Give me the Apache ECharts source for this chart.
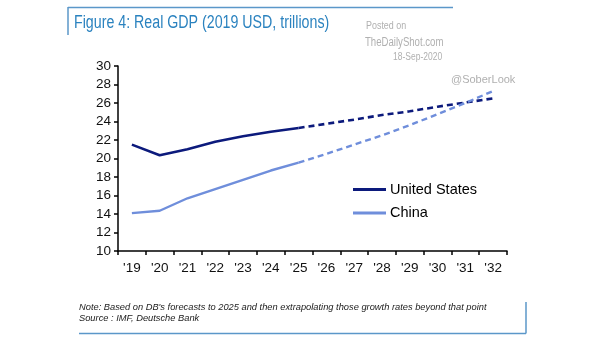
<!DOCTYPE html>
<html><head><meta charset="utf-8">
<script src="https://cdn.jsdelivr.net/npm/echarts@6/dist/echarts.min.js"></script>
<style>html,body{margin:0;padding:0;background:#fff}#c{width:605px;height:341px}</style>
</head><body><div id="c"></div>
<script>
const categories = ["'19","'20","'21","'22","'23","'24","'25","'26","'27","'28","'29","'30","'31","'32"];
const usActual = [21.5, 20.35, 21.0, 21.8, 22.4, 22.9, 23.3, null, null, null, null, null, null, null];
const usProjected = [null, null, null, null, null, null, 23.3, 23.75, 24.2, 24.7, 25.1, 25.6, 26.05, 26.5];
const chinaActual = [14.1, 14.35, 15.7, 16.7, 17.7, 18.7, 19.55, null, null, null, null, null, null, null];
const chinaProjected = [null, null, null, null, null, null, 19.55, 20.5, 21.5, 22.5, 23.6, 24.8, 26.0, 27.3];
const yTicks = {min: 10, max: 30, interval: 2};

const US = '#0c1a7c', CN = '#6f8edb', FONT = 'Liberation Sans, Arial, sans-serif';
const chart = echarts.init(document.getElementById('c'), null, {renderer: 'canvas'});
chart.setOption({
  animation: false,
  textStyle: {fontFamily: FONT},
  grid: {left: 118, right: 98, top: 66, bottom: 90},
  xAxis: {
    type: 'category', data: categories, boundaryGap: true,
    axisLine: {lineStyle: {color: '#000', width: 1.5}},
    axisTick: {show: true, length: 4, lineStyle: {color: '#000', width: 1.5}},
    axisLabel: {color: '#111', fontSize: 13.5, margin: 10, fontFamily: FONT}
  },
  yAxis: {
    type: 'value', min: yTicks.min, max: yTicks.max, interval: yTicks.interval,
    splitLine: {show: false},
    axisLine: {show: true, lineStyle: {color: '#000', width: 1.5}},
    axisTick: {show: true, length: 4, lineStyle: {color: '#000', width: 1.5}},
    axisLabel: {color: '#111', fontSize: 13.5, margin: 7, fontFamily: FONT}
  },
  legend: {
    data: ['United States', 'China'], orient: 'vertical', left: 348, top: 177,
    icon: 'rect', itemWidth: 33, itemHeight: 3, itemGap: 8.5,
    textStyle: {color: '#000', fontSize: 14.5, fontFamily: FONT, padding: [0,0,0,-1]}
  },
  series: [
    {name: 'United States', type: 'line', data: usActual, symbol: 'none', lineStyle: {color: US, width: 2.6}, itemStyle: {color: US}},
    {name: 'US proj', type: 'line', data: usProjected, symbol: 'none', lineStyle: {color: US, width: 2.6, type: [6, 4]}, itemStyle: {color: US}},
    {name: 'China', type: 'line', data: chinaActual, symbol: 'none', lineStyle: {color: CN, width: 2.4}, itemStyle: {color: CN}},
    {name: 'China proj', type: 'line', data: chinaProjected, symbol: 'none', lineStyle: {color: CN, width: 2.4, type: [6, 4]}, itemStyle: {color: CN}}
  ],
  graphic: [
    {type: 'line', shape: {x1: 68, y1: 7.5, x2: 453, y2: 7.5}, style: {stroke: '#5b97c9', lineWidth: 1.5}},
    {type: 'line', shape: {x1: 68, y1: 7, x2: 68, y2: 35}, style: {stroke: '#5b97c9', lineWidth: 1.5}},
    {type: 'text', x: 74, y: 14.5, scaleX: 0.79, style: {text: 'Figure 4: Real GDP (2019 USD, trillions)', fill: '#2a82bf', font: '18px ' + FONT}},
    {type: 'text', x: 366, y: 21, scaleX: 0.85, style: {text: 'Posted on', fill: '#b0b0b0', font: '10.5px ' + FONT}},
    {type: 'text', x: 365, y: 37, scaleX: 0.8, style: {text: 'TheDailyShot.com', fill: '#b0b0b0', font: '12px ' + FONT}},
    {type: 'text', x: 393, y: 52, scaleX: 0.85, style: {text: '18-Sep-2020', fill: '#b0b0b0', font: '10px ' + FONT}},
    {type: 'text', x: 451, y: 74, style: {text: '@SoberLook', fill: '#b0b0b0', font: '11px ' + FONT}},
    {type: 'text', x: 79, y: 303, style: {text: "Note: Based on DB's forecasts to 2025 and then extrapolating those growth rates beyond that point", fill: '#222', font: 'italic 9.3px ' + FONT}},
    {type: 'text', x: 79, y: 314, style: {text: 'Source : IMF, Deutsche Bank', fill: '#222', font: 'italic 9.3px ' + FONT}},
    {type: 'line', shape: {x1: 526, y1: 302, x2: 526, y2: 333.5}, style: {stroke: '#5b97c9', lineWidth: 1.5}},
    {type: 'line', shape: {x1: 79, y1: 333.5, x2: 526, y2: 333.5}, style: {stroke: '#5b97c9', lineWidth: 1.5}}
  ]
});
</script></body></html>
